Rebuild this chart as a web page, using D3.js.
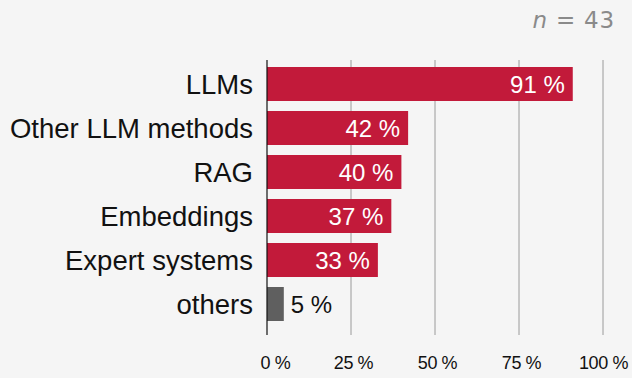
<!DOCTYPE html>
<html><head><meta charset="utf-8">
<script src="https://cdn.jsdelivr.net/npm/d3@7"></script>
<style>
html,body{margin:0;padding:0;background:#f5f5f5;}
svg{display:block;font-family:"Liberation Sans",Arial,sans-serif;}
</style></head><body>
<svg id="c" width="632" height="378"></svg>
<script>
const categories = ["LLMs","Other LLM methods","RAG","Embeddings","Expert systems","others"];
const values = [91,42,40,37,33,5];
const highlight = [true,true,true,true,true,false];
const tickValues = [0,25,50,75,100];
const tickLabels = ["0 %","25 %","50 %","75 %","100 %"];
const nLabel = "43";

const svg = d3.select("#c");
const x = d3.scaleLinear().domain([0,100]).range([267,603]);
const y = d3.scaleBand().domain(categories).range([62,326]).paddingInner(10/44).paddingOuter(5/44);

// gridlines
svg.append("g").selectAll("line").data(tickValues.slice(1)).join("line")
  .attr("x1",d=>x(d)).attr("x2",d=>x(d)).attr("y1",60).attr("y2",335)
  .attr("stroke","#9a9a9a").attr("stroke-width",1);

// bars
svg.append("g").selectAll("rect").data(categories).join("rect")
  .attr("x",x(0)).attr("y",d=>y(d)).attr("height",y.bandwidth())
  .attr("width",(d,i)=>x(values[i])-x(0))
  .attr("fill",(d,i)=>highlight[i]?"#c21a3a":"#5f5f5f");

// zero line
svg.append("line").attr("x1",x(0)).attr("x2",x(0)).attr("y1",60).attr("y2",335)
  .attr("stroke","#111").attr("stroke-width",1.2);

// category labels
svg.append("g").selectAll("text").data(categories).join("text")
  .attr("x",253).attr("y",d=>y(d)+y.bandwidth()/2).attr("dy","0.35em")
  .attr("text-anchor","end").attr("font-size",27.5).attr("fill","#111")
  .text(d=>d);

// value labels
svg.append("g").selectAll("text").data(categories).join("text")
  .attr("x",(d,i)=>highlight[i]?x(values[i])-8:x(values[i])+7)
  .attr("y",d=>y(d)+y.bandwidth()/2).attr("dy","0.36em")
  .attr("text-anchor",(d,i)=>highlight[i]?"end":"start")
  .attr("font-size",24).attr("fill",(d,i)=>highlight[i]?"#fff":"#111")
  .text((d,i)=>values[i]+" %");

// x tick labels
const axis = d3.axisBottom(x).tickValues(tickValues).tickFormat((d,i)=>tickLabels[i]).tickSize(0).tickPadding(0);
const ax = svg.append("g").attr("transform","translate(0,356)").call(axis);
ax.select(".domain").remove();
ax.selectAll("text").attr("font-size",18).attr("fill","#111").attr("font-family","Liberation Sans, Arial, sans-serif")
  .attr("letter-spacing",-0.4)
  .attr("dx",(d,i)=>i===0?8:(i===4?0:2));

// n label
const nt = svg.append("text").attr("x",615).attr("y",28).attr("text-anchor","end")
  .attr("font-size",23).attr("fill","#8a8a8a").attr("font-family","DejaVu Sans, sans-serif")
  .attr("letter-spacing",0.8);
nt.append("tspan").attr("font-style","italic").text("n");
nt.append("tspan").text(" = " + nLabel);
</script></body></html>
